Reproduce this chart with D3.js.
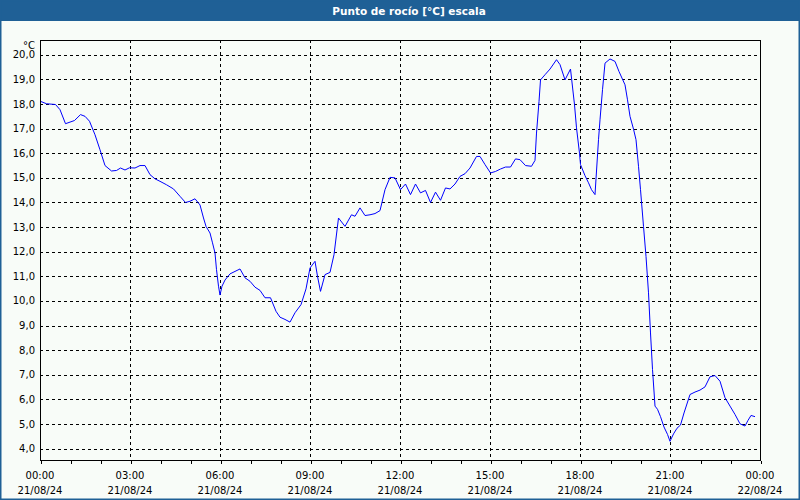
<!DOCTYPE html>
<html>
<head>
<meta charset="utf-8">
<script src="https://cdn.jsdelivr.net/npm/d3@7"></script>
<style>
html,body{margin:0;padding:0;background:#f8fcf8;}
svg{display:block;}
text{font-family:"DejaVu Sans",Verdana,sans-serif;}
</style>
</head>
<body>
<svg id="chart" width="800" height="500"></svg>
<script>
// ---- data ----
const title = "Punto de rocío [°C] escala";
const unitLabel = "°C";
// minutes after 21/08/24 00:00
const minutes = [2,13,31,40,51,69,81,90,99,110,120,130,143,153,161,170,179,190,200,210,220,230,240,253,267,280,291,300,310,320,327,332,340,345,350,353,357,360,364,370,380,390,400,410,420,430,440,450,461,472,480,490,500,510,522,532,540,550,555,561,570,580,588,597,610,623,630,640,650,660,670,680,690,700,710,721,731,741,751,761,771,781,791,801,811,820,830,840,850,860,873,880,890,901,911,921,931,941,951,960,971,983,990,993,998,1001,1010,1020,1033,1040,1050,1061,1069,1073,1079,1081,1090,1097,1103,1110,1117,1120,1125,1130,1140,1150,1158,1170,1175,1180,1187,1192,1197,1201,1207,1212,1217,1221,1225,1230,1235,1241,1248,1255,1260,1267,1274,1281,1288,1300,1310,1320,1330,1340,1350,1360,1370,1380,1390,1400,1410,1416,1422,1430];
const dewPoint = [18.10,18.01,17.98,17.77,17.20,17.33,17.57,17.50,17.30,16.75,16.14,15.50,15.28,15.30,15.40,15.32,15.41,15.40,15.50,15.50,15.13,14.96,14.86,14.72,14.55,14.25,14.00,14.05,14.15,13.90,13.37,13.03,12.76,12.36,11.95,11.27,10.60,10.24,10.60,10.85,11.10,11.20,11.30,10.94,10.80,10.56,10.43,10.13,10.13,9.58,9.34,9.25,9.14,9.52,9.85,10.49,11.34,11.61,11.00,10.39,11.07,11.16,11.88,13.37,13.03,13.50,13.44,13.78,13.47,13.50,13.55,13.67,14.52,15.02,15.00,14.52,14.75,14.32,14.75,14.39,14.49,14.00,14.42,14.09,14.59,14.55,14.75,15.06,15.17,15.40,15.87,15.87,15.54,15.20,15.26,15.36,15.44,15.44,15.77,15.74,15.50,15.47,15.71,16.82,18.10,18.98,19.19,19.42,19.80,19.60,18.98,19.42,17.97,17.03,16.00,15.54,15.09,14.80,14.52,14.32,16.55,17.36,18.58,19.66,19.83,19.73,19.32,18.78,18.17,17.50,16.98,16.55,15.47,14.52,13.03,11.81,10.33,8.70,7.22,5.73,5.60,5.30,4.88,4.58,4.30,4.60,4.83,4.96,5.45,6.20,6.30,6.38,6.51,6.92,6.97,6.74,6.07,5.73,5.39,5.01,4.92,5.15,5.35,5.30];
const yTicks = [4,5,6,7,8,9,10,11,12,13,14,15,16,17,18,19,20];
const xMajorTicks = [0,180,360,540,720,900,1080,1260,1440];
const xTimeLabels = ["00:00","03:00","06:00","09:00","12:00","15:00","18:00","21:00","00:00"];
const xDateLabels = ["21/08/24","21/08/24","21/08/24","21/08/24","21/08/24","21/08/24","21/08/24","21/08/24","22/08/24"];
const xMinorTicks = d3.range(0, 1441, 60);

// ---- layout ----
const W = 800, H = 500;
const L = 40, R = 760, T = 40, B = 460;
const svg = d3.select("#chart");

svg.append("rect").attr("x",0).attr("y",0).attr("width",W).attr("height",H).attr("fill","#f8fcf8");
svg.append("rect").attr("x",0).attr("y",0).attr("width",W).attr("height",21).attr("fill","#1f6096");
svg.append("rect").attr("x",0.75).attr("y",0.75).attr("width",W-1.5).attr("height",H-1.5)
  .attr("fill","none").attr("stroke","#1f6096").attr("stroke-width",1.5);
svg.append("text").attr("x",409).attr("y",10.5).attr("text-anchor","middle").attr("dominant-baseline","central")
  .attr("fill","#ffffff").attr("font-weight","bold").attr("font-size","10.5px").text(title);

const x = d3.scaleLinear().domain([0,1440]).range([L,R]);
const y = d3.scaleLinear().domain([3.54,20.6]).range([B,T]);

// grid
const g = svg.append("g");
g.selectAll("line.h").data(yTicks).join("line")
  .attr("x1",L).attr("x2",R).attr("y1",d=>Math.round(y(d))+0.5).attr("y2",d=>Math.round(y(d))+0.5)
  .attr("stroke","#000").attr("stroke-dasharray","3,3").attr("shape-rendering","crispEdges");
g.selectAll("line.v").data(xMajorTicks.slice(1,-1)).join("line")
  .attr("y1",T).attr("y2",B).attr("x1",d=>Math.round(x(d))+0.5).attr("x2",d=>Math.round(x(d))+0.5)
  .attr("stroke","#000").attr("stroke-dasharray","3,3").attr("shape-rendering","crispEdges");

// frame
svg.append("rect").attr("x",L+0.5).attr("y",T+0.5).attr("width",R-L).attr("height",B-T)
  .attr("fill","none").attr("stroke","#000").attr("shape-rendering","crispEdges");

// x axis
const xAxis = d3.axisBottom(x).tickValues(xMinorTicks).tickSize(3).tickFormat("");
const xa = svg.append("g").attr("transform",`translate(0.5,${B+0.5})`).call(xAxis);
xa.select(".domain").remove();
xa.selectAll("line").attr("stroke","#000").attr("shape-rendering","crispEdges");

const lab = svg.append("g").attr("font-size","10px").attr("fill","#000").attr("text-anchor","middle");
lab.selectAll("text.t").data(xMajorTicks).join("text")
  .attr("x",d=>x(d)).attr("y",475).attr("dominant-baseline","central").text((d,i)=>xTimeLabels[i]);
lab.selectAll("text.d").data(xMajorTicks).join("text")
  .attr("x",d=>x(d)).attr("y",490).attr("dominant-baseline","central").text((d,i)=>xDateLabels[i]);

// y axis labels
const fmt = d => d3.format(".1f")(d).replace(".", ",");
const ya = svg.append("g").attr("font-size","10px").attr("fill","#000").attr("text-anchor","end");
ya.selectAll("text").data(yTicks).join("text")
  .attr("x",35).attr("y",d=>y(d)).attr("dominant-baseline","central").text(fmt);
svg.append("text").attr("x",35).attr("y",45).attr("text-anchor","end").attr("dominant-baseline","central")
  .attr("font-size","10px").text(unitLabel);

// line
const data = minutes.map((m,i)=>({m, v: dewPoint[i]}));
svg.append("path").datum(data)
  .attr("d", d3.line().x(d=>x(d.m)).y(d=>y(d.v)))
  .attr("fill","none").attr("stroke","#0000ff").attr("stroke-width",1);
</script>
</body>
</html>
